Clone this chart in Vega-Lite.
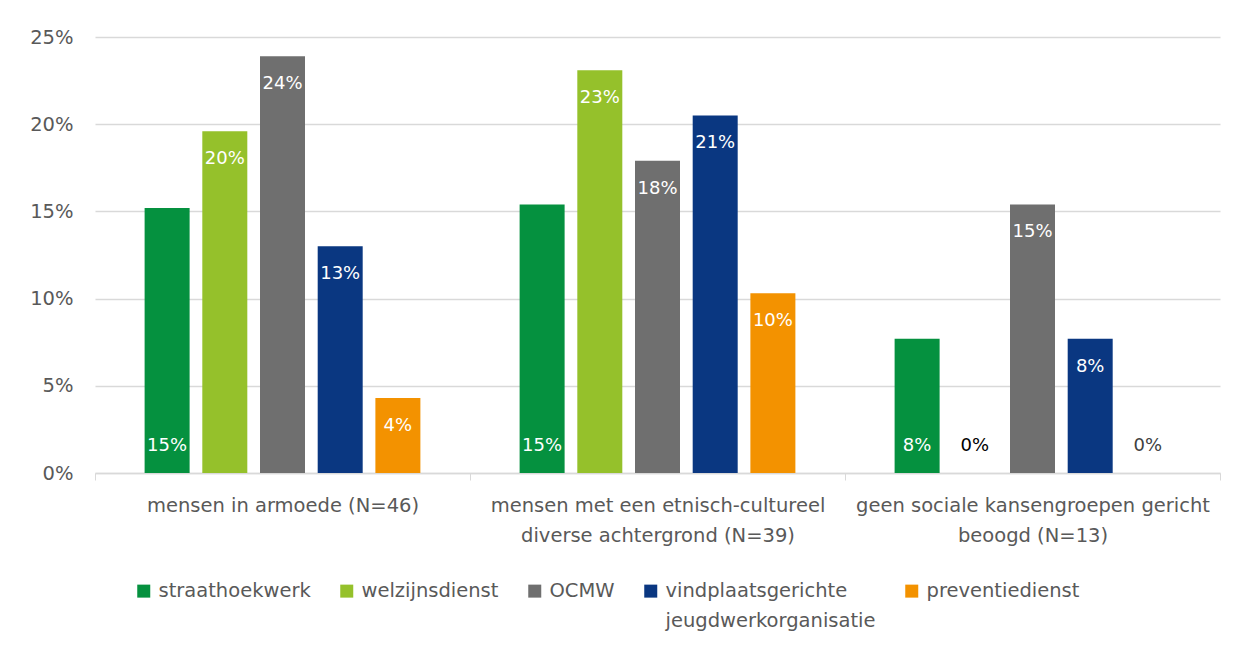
{
  "$schema": "https://vega.github.io/schema/vega-lite/v6.json",
  "width": 1125,
  "height": 436,
  "autosize": {"type": "none"},
  "padding": {"left": 95, "top": 37, "right": 27, "bottom": 184},
  "background": "white",
  "config": {
    "font": "DejaVu Sans",
    "view": {"stroke": null},
    "axis": {"labelFont": "DejaVu Sans", "labelColor": "#595959", "labelFontWeight": "normal"},
    "style": {"guide-label": {"lineHeight": 30}}
  },
  "data": {
    "values": [
      {"group": "mensen in armoede (N=46)", "series": "straathoekwerk", "value": 0.152},
      {"group": "mensen in armoede (N=46)", "series": "welzijnsdienst", "value": 0.196},
      {"group": "mensen in armoede (N=46)", "series": "OCMW", "value": 0.239},
      {"group": "mensen in armoede (N=46)", "series": "vindplaatsgerichte jeugdwerkorganisatie", "value": 0.130},
      {"group": "mensen in armoede (N=46)", "series": "preventiedienst", "value": 0.043},
      {"group": "mensen met een etnisch-cultureel diverse achtergrond (N=39)", "series": "straathoekwerk", "value": 0.154},
      {"group": "mensen met een etnisch-cultureel diverse achtergrond (N=39)", "series": "welzijnsdienst", "value": 0.231},
      {"group": "mensen met een etnisch-cultureel diverse achtergrond (N=39)", "series": "OCMW", "value": 0.179},
      {"group": "mensen met een etnisch-cultureel diverse achtergrond (N=39)", "series": "vindplaatsgerichte jeugdwerkorganisatie", "value": 0.205},
      {"group": "mensen met een etnisch-cultureel diverse achtergrond (N=39)", "series": "preventiedienst", "value": 0.103},
      {"group": "geen sociale kansengroepen gericht beoogd (N=13)", "series": "straathoekwerk", "value": 0.077},
      {"group": "geen sociale kansengroepen gericht beoogd (N=13)", "series": "welzijnsdienst", "value": 0},
      {"group": "geen sociale kansengroepen gericht beoogd (N=13)", "series": "OCMW", "value": 0.154},
      {"group": "geen sociale kansengroepen gericht beoogd (N=13)", "series": "vindplaatsgerichte jeugdwerkorganisatie", "value": 0.077},
      {"group": "geen sociale kansengroepen gericht beoogd (N=13)", "series": "preventiedienst", "value": 0}
    ]
  },
  "encoding": {
    "x": {
      "field": "group",
      "type": "nominal",
      "sort": ["mensen in armoede (N=46)", "mensen met een etnisch-cultureel diverse achtergrond (N=39)", "geen sociale kansengroepen gericht beoogd (N=13)"],
      "scale": {"paddingInner": 0, "paddingOuter": 0},
      "axis": {
        "title": null,
        "labelAngle": 0,
        "labelLimit": 0,
        "labelFontSize": 19.5,
        "labelLineHeight": 30,
        "labelPadding": 16,
        "tickBand": "extent",
        "tickSize": 7,
        "tickColor": "#d9d9d9",
        "domainColor": "#d9d9d9",
        "domainWidth": 1.5,
        "labelExpr": "datum.value == 'mensen met een etnisch-cultureel diverse achtergrond (N=39)' ? ['mensen met een etnisch-cultureel', 'diverse achtergrond (N=39)'] : datum.value == 'geen sociale kansengroepen gericht beoogd (N=13)' ? ['geen sociale kansengroepen gericht', 'beoogd (N=13)'] : datum.label"
      }
    },
    "xOffset": {
      "field": "series",
      "type": "nominal",
      "sort": ["straathoekwerk", "welzijnsdienst", "OCMW", "vindplaatsgerichte jeugdwerkorganisatie", "preventiedienst"],
      "scale": {"paddingInner": 0.22, "paddingOuter": 0.86}
    }
  },
  "layer": [
    {
      "mark": {"type": "bar"},
      "encoding": {
        "y": {
          "field": "value",
          "type": "quantitative",
          "scale": {"domain": [0, 0.25], "nice": false},
          "axis": {
            "title": null,
            "values": [0, 0.05, 0.1, 0.15, 0.2, 0.25],
            "format": ".0%",
            "domain": false,
            "ticks": false,
            "labelFontSize": 19.5,
            "labelPadding": 22,
            "gridColor": "#d9d9d9",
            "gridWidth": 1.5
          }
        },
        "color": {
          "field": "series",
          "type": "nominal",
          "sort": ["straathoekwerk", "welzijnsdienst", "OCMW", "vindplaatsgerichte jeugdwerkorganisatie", "preventiedienst"],
          "scale": {
            "domain": ["straathoekwerk", "welzijnsdienst", "OCMW", "vindplaatsgerichte jeugdwerkorganisatie", "preventiedienst"],
            "range": ["#05913f", "#95c12b", "#6f6f6f", "#0a3781", "#f39200"]
          },
          "legend": {
            "title": null,
            "orient": "none",
            "legendX": 39,
            "legendY": 544,
            "direction": "horizontal",
            "columns": 5,
            "symbolType": "square",
            "symbolSize": 169,
            "symbolStrokeWidth": 0,
            "labelFont": "DejaVu Sans",
            "labelFontSize": 19.5,
            "labelFontWeight": "normal",
            "labelColor": "#595959",
            "labelOffset": 5,
            "labelLimit": 0,
            "labelBaseline": "middle",
            "columnPadding": 26,
            "labelExpr": "datum.label == 'vindplaatsgerichte jeugdwerkorganisatie' ? ['vindplaatsgerichte', 'jeugdwerkorganisatie'] : [datum.label, '']"
          }
        }
      }
    },
    {
      "transform": [{"filter": "datum.series == 'straathoekwerk' || datum.value == 0"}],
      "mark": {"type": "text", "dy": -27, "baseline": "middle", "fontSize": 18, "font": "DejaVu Sans"},
      "encoding": {
        "y": {"datum": 0, "type": "quantitative"},
        "text": {"field": "value", "type": "quantitative", "format": ".0%"},
        "color": {
          "condition": [
            {"test": "datum.value == 0 && datum.series == 'welzijnsdienst'", "value": "#000000"},
            {"test": "datum.value == 0", "value": "#404040"}
          ],
          "value": "#ffffff"
        }
      }
    },
    {
      "transform": [{"filter": "datum.series != 'straathoekwerk' && datum.value > 0"}],
      "mark": {"type": "text", "dy": 28, "baseline": "middle", "fontSize": 18, "font": "DejaVu Sans", "color": "#ffffff"},
      "encoding": {
        "y": {"field": "value", "type": "quantitative"},
        "text": {"field": "value", "type": "quantitative", "format": ".0%"}
      }
    }
  ]
}
